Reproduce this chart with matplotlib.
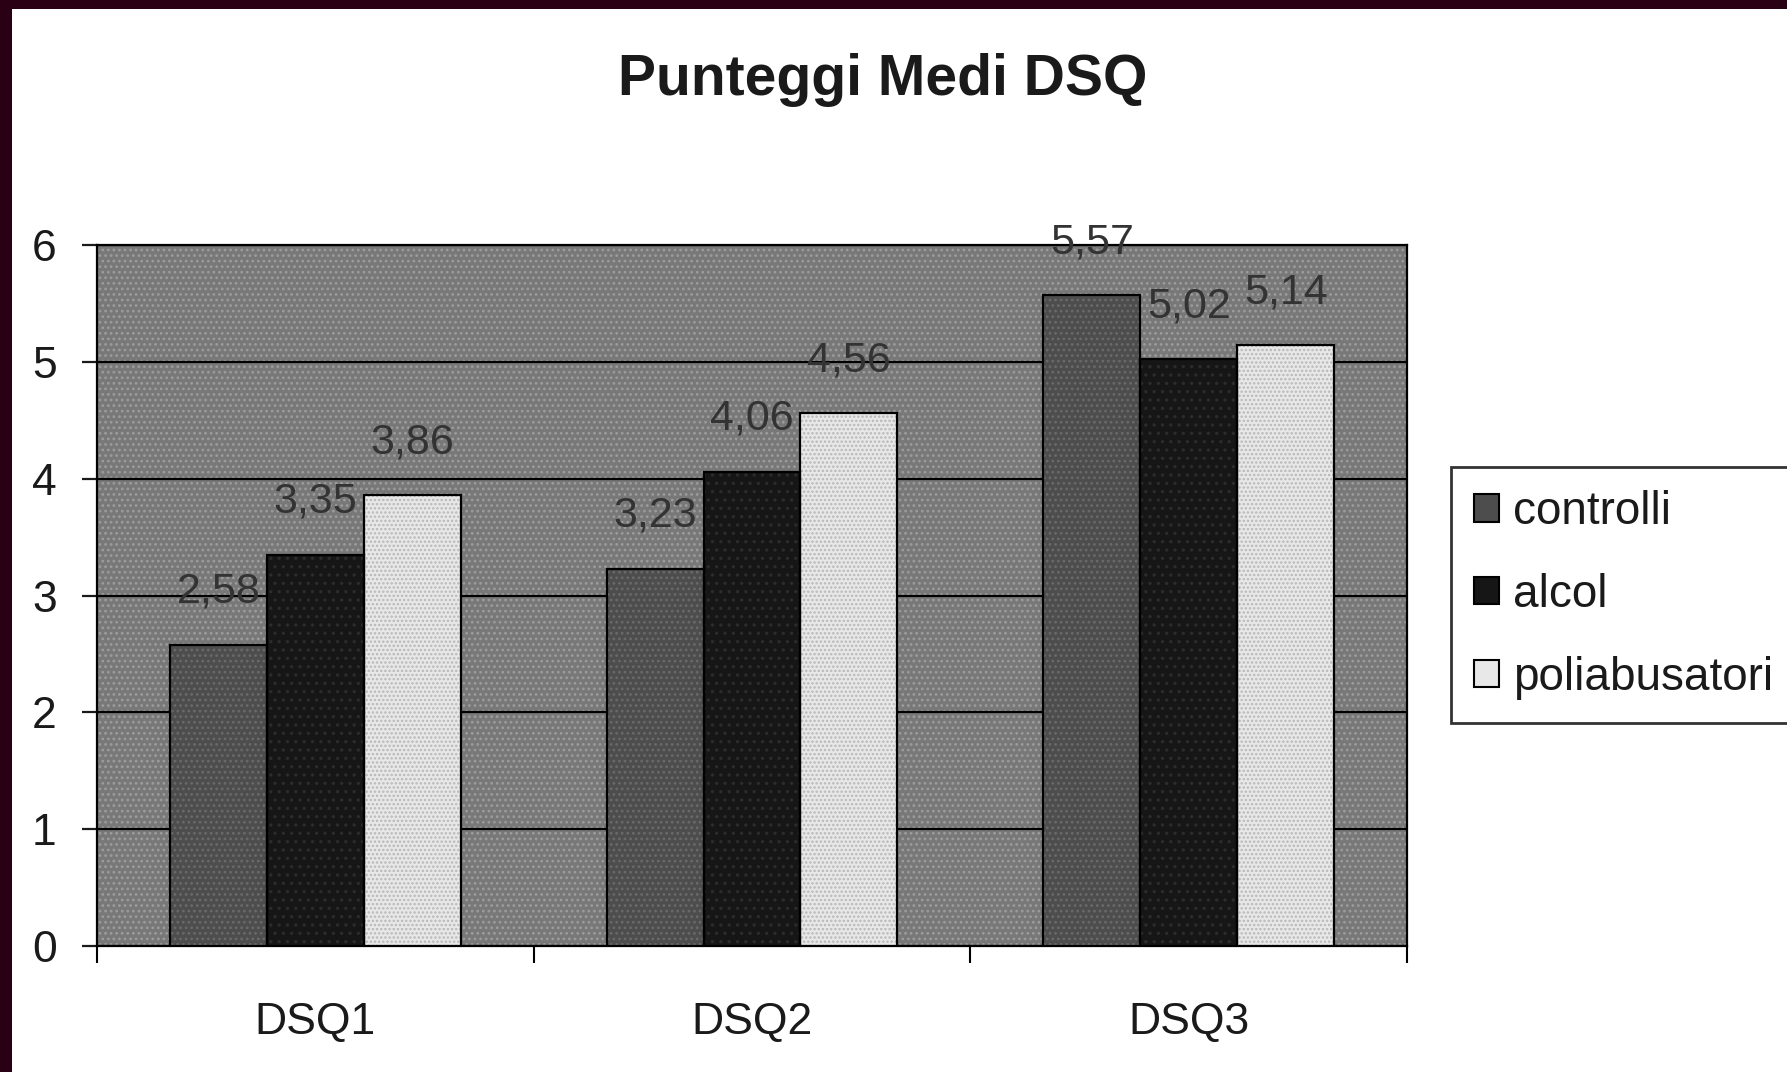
import matplotlib
matplotlib.use("Agg")
import matplotlib.pyplot as plt
from matplotlib.patches import Rectangle
import numpy as np

categories = ["DSQ1", "DSQ2", "DSQ3"]
series_names = ["controlli", "alcol", "poliabusatori"]
controlli = [2.58, 3.23, 5.57]
alcol = [3.35, 4.06, 5.02]
poliabusatori = [3.86, 4.56, 5.14]
yticks = [0, 1, 2, 3, 4, 5, 6]
title = "Punteggi Medi DSQ"

series = [controlli, alcol, poliabusatori]
face = ["#4d4d4d", "#161616", "#e8e8e8"]
hatch_col = ["#6a6a6a", "#2c2c2c", "#b8b8b8"]
hatches = ["...", "..", "...."]

plt.rcParams["font.family"] = ["Liberation Sans", "DejaVu Sans"]
plt.rcParams["hatch.linewidth"] = 1.2

fig = plt.figure(figsize=(17.87, 10.72), dpi=100)
fig.patch.set_facecolor("#2a0014")
fig.patches.append(Rectangle((12 / 1787, 0), 1, 1 - 9 / 1072, transform=fig.transFigure,
                             facecolor="white", edgecolor="none", zorder=-10))

ax = fig.add_axes([97 / 1787, 1 - 946 / 1072, (1407 - 97) / 1787, (946 - 245) / 1072])
ax.set_zorder(1)
ax.set_facecolor("#787878")
ax.add_patch(Rectangle((0, 0), 1, 1, transform=ax.transAxes, facecolor="#787878",
                       edgecolor="#9c9c9c", hatch="...", linewidth=0, zorder=0))

x = np.arange(len(categories))
w = 0.222
for i, vals in enumerate(series):
    pos = x + (i - 1) * w
    ax.bar(pos, vals, w, color=face[i], edgecolor=hatch_col[i], hatch=hatches[i],
           linewidth=0, zorder=3)
    ax.bar(pos, vals, w, facecolor="none", edgecolor="black", linewidth=1.6, zorder=4)
    for p, v in zip(pos, vals):
        ax.annotate(f"{v:.2f}".replace(".", ","), (p, v), xytext=(0, 38),
                    textcoords="offset points", ha="center", va="center",
                    fontsize=31, color="#333333", zorder=5)

ax.set_xlim(-0.5, 2.5)
ax.set_ylim(0, 6)
ax.set_yticks(yticks)
ax.set_yticklabels([str(t) for t in yticks])
ax.yaxis.grid(True, color="black", linewidth=1.6, zorder=1)
ax.set_axisbelow(True)
ax.set_xticks(x)
ax.set_xticklabels(categories)
ax.set_xticks([-0.5, 0.5, 1.5, 2.5], minor=True)
ax.tick_params(axis="x", which="major", length=0, pad=40, labelsize=32, colors="#1a1a1a")
ax.tick_params(axis="x", which="minor", length=12, width=1.5, direction="out", color="black")
ax.tick_params(axis="y", length=11, width=1.6, pad=18, labelsize=32, colors="#1a1a1a")
for s in ax.spines.values():
    s.set_color("black")
    s.set_linewidth(1.6)

fig.text(0.494, 0.925, title, ha="center", va="center", fontsize=41, fontweight="bold",
         color="#1a1a1a")

handles = [Rectangle((0, 0), 1, 1, facecolor=face[i], edgecolor="black", linewidth=1.5)
           for i in range(3)]
leg = fig.legend(handles, series_names, loc="upper left",
                 bbox_to_anchor=(1451 / 1787, 1 - 467 / 1072), borderaxespad=0,
                 fontsize=33, frameon=True, fancybox=False, edgecolor="black",
                 handlelength=0.55, handleheight=0.55, handletextpad=0.3,
                 labelspacing=0.85, borderpad=0.5)
leg.get_frame().set_linewidth(2)
for t in leg.get_texts():
    t.set_color("#1a1a1a")

fig.savefig("out.png", dpi=100, facecolor=fig.get_facecolor())
